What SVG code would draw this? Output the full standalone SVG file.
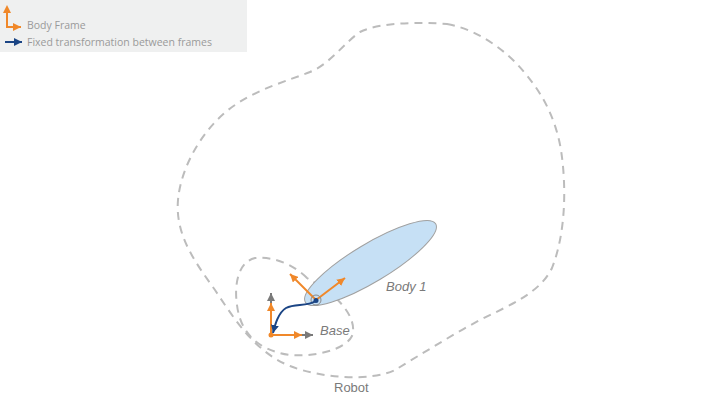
<svg xmlns="http://www.w3.org/2000/svg" width="714" height="414" viewBox="0 0 714 414">
<style>
.dash{fill:none;stroke:#bcbcbc;stroke-width:2;stroke-dasharray:8 6}
.or{fill:none;stroke:#f0882a;stroke-width:2}
.gr{fill:none;stroke:#7a7a7a;stroke-width:2}
.bl{fill:none;stroke:#1b4585;stroke-width:2}
.leg{font-family:"Open Sans","Liberation Sans",sans-serif;font-size:10.5px;fill:#9a9a9a}
.lbl{font-family:"Liberation Sans",Arial,sans-serif;font-size:13px;fill:#7a7a7a}
</style>
<defs>
<marker id="ao" viewBox="0 0 10 10" refX="10" refY="5" markerWidth="8" markerHeight="8" markerUnits="userSpaceOnUse" orient="auto"><path d="M0,0 L10,5 L0,10 Z" fill="#f0882a"/></marker>
<marker id="ag" viewBox="0 0 10 10" refX="10" refY="5" markerWidth="8" markerHeight="8" markerUnits="userSpaceOnUse" orient="auto"><path d="M0,0 L10,5 L0,10 Z" fill="#7a7a7a"/></marker>
<marker id="ab" viewBox="0 0 10 10" refX="10" refY="5" markerWidth="8" markerHeight="8" markerUnits="userSpaceOnUse" orient="auto"><path d="M0,0 L10,5 L0,10 Z" fill="#1b4585"/></marker>
<marker id="aos" viewBox="0 0 10 10" refX="0" refY="5" markerWidth="8" markerHeight="8" markerUnits="userSpaceOnUse" orient="auto-start-reverse"><path d="M0,0 L10,5 L0,10 Z" fill="#f0882a"/></marker>
</defs>
<g id="legend">
<rect x="0" y="0" width="247" height="52" fill="#eff0f0"/>
<path class="or" d="M7,13 L7,27 L21,27" marker-start="url(#aos)" marker-end="url(#ao)"/>
<path class="bl" d="M5,42 L22,42" marker-end="url(#ab)"/>
<text class="leg" x="27" y="29">Body Frame</text>
<text class="leg" x="27" y="46">Fixed transformation between frames</text>
</g>
<g id="robot">
<path class="dash" d="M447,24 C470,28 495,42 515,62 C540,88 555,115 561,150 C567,190 565,235 552,268 C540,293 510,305 480,320 C450,336 420,355 395,370 C370,382 320,378 290,366 C255,352 235,320 215,290 C195,262 175,235 178,200 C181,165 205,125 235,105 C260,88 290,80 310,72 C330,64 345,42 360,32 C380,22 420,22 447,24 Z"/>
<text class="lbl" x="334" y="392">Robot</text>
</g>
<g id="base">
<path class="dash" d="M307,278 C295,266 275,256 255,258 C238,262 234,285 237,305 C240,330 255,350 290,355 C315,357 345,350 352,336 C357,322 345,305 330,293 C322,287 314,282 307,278 Z"/>
<text class="lbl" x="320" y="335" font-style="italic">Base</text>
</g>
<g id="body1">
<ellipse cx="370.5" cy="263" rx="76" ry="19" transform="rotate(-31 370.5 263)" fill="#c6e0f5" stroke="#a0a0a0" stroke-width="1"/>
<text class="lbl" x="386" y="291" font-style="italic">Body 1</text>
</g>
<g id="connectors">
<path class="gr" d="M271,335 L271,293" marker-end="url(#ag)"/>
<path class="gr" d="M271,335 L313,335" marker-end="url(#ag)"/>
<path class="or" d="M271,335 L271,303" marker-end="url(#ao)"/>
<path class="or" d="M271,335 L302,335" marker-end="url(#ao)"/>
<circle cx="271" cy="335" r="2.5" fill="#f0882a"/>
<path class="or" d="M316,300 L345,278" marker-end="url(#ao)"/>
<path class="or" d="M316,300 L290,274" marker-end="url(#ao)"/>
<circle cx="316" cy="300" r="5" fill="none" stroke="#8a8a8a" stroke-width="1"/>
<path class="bl" d="M316,301 C306,307 295,303 286,308 C278,313 275,325 273,333" marker-end="url(#ab)"/>
<circle cx="316" cy="300.5" r="2.5" fill="#1b4585"/>
</g>
</svg>
